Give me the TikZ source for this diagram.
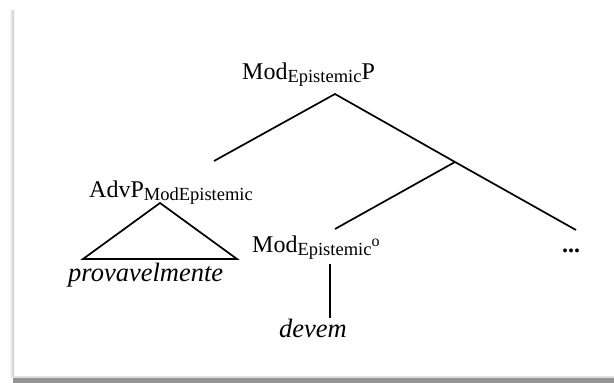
\documentclass[tikz,border=0pt]{standalone}
\usepackage{fontspec}
\setmainfont{Liberation Serif}
\newcommand{\bigtxt}{\fontsize{24}{28}\selectfont}
\newcommand{\subtxt}{\fontsize{18.5}{20}\selectfont}
\newcommand{\itxt}{\fontsize{26.5}{30}\selectfont\itshape}
\newcommand{\labsub}[1]{\raisebox{-3.5pt}{\subtxt #1}}
\begin{document}
\begin{tikzpicture}[x=1pt,y=-1pt,
  lbl/.style={inner sep=0pt,anchor=base west,font=\bigtxt},
  branch/.style={line width=1.7pt,black},
  shadowv/.style={left color=white,right color=black!22},
]
\useasboundingbox (0,0) rectangle (614,383);
\fill[white] (0,0) rectangle (614,383);
% frame shadow
\shade[shadowv] (9,10) rectangle (14,377);
\fill[black!12] (13,376) rectangle (614,378);
\fill[black!42] (13,378) rectangle (614,383);
% labels
\node[lbl] (top) at (242,79) {Mod\labsub{Epistemic}P};
\node[lbl] (adv) at (89,197) {AdvP\labsub{ModEpistemic}};
\node[lbl,font=\itxt] (prov) at (68,281) {provavelmente};
\node[lbl] (mod) at (252,252) {Mod\labsub{Epistemic}\raisebox{6pt}{\fontsize{16}{17}\selectfont o}};
\node[lbl,font=\itxt] (dev) at (279,337) {devem};
\node[lbl] (dots) at (562,252) {\textbf{...}};
% connector points
\coordinate (apex) at (335,94);
\coordinate (advtop) at (214,161);
\coordinate (bar) at (455,162);
\coordinate (dotstop) at (576,230);
\coordinate (modtop) at (335,229);
\coordinate (triA) at (160,203);
\coordinate (triL) at (83,259);
\coordinate (triR) at (237,259);
\coordinate (modbot) at (330,264);
\coordinate (devtop) at (330,318);
% branches
\draw[branch] (advtop) -- (apex) -- (bar) -- (dotstop);
\draw[branch] (bar) -- (modtop);
\draw[branch,line join=miter] (triA) -- (triL) -- (triR) -- cycle;
\draw[branch] (modbot) -- (devtop);
\end{tikzpicture}
\end{document}
